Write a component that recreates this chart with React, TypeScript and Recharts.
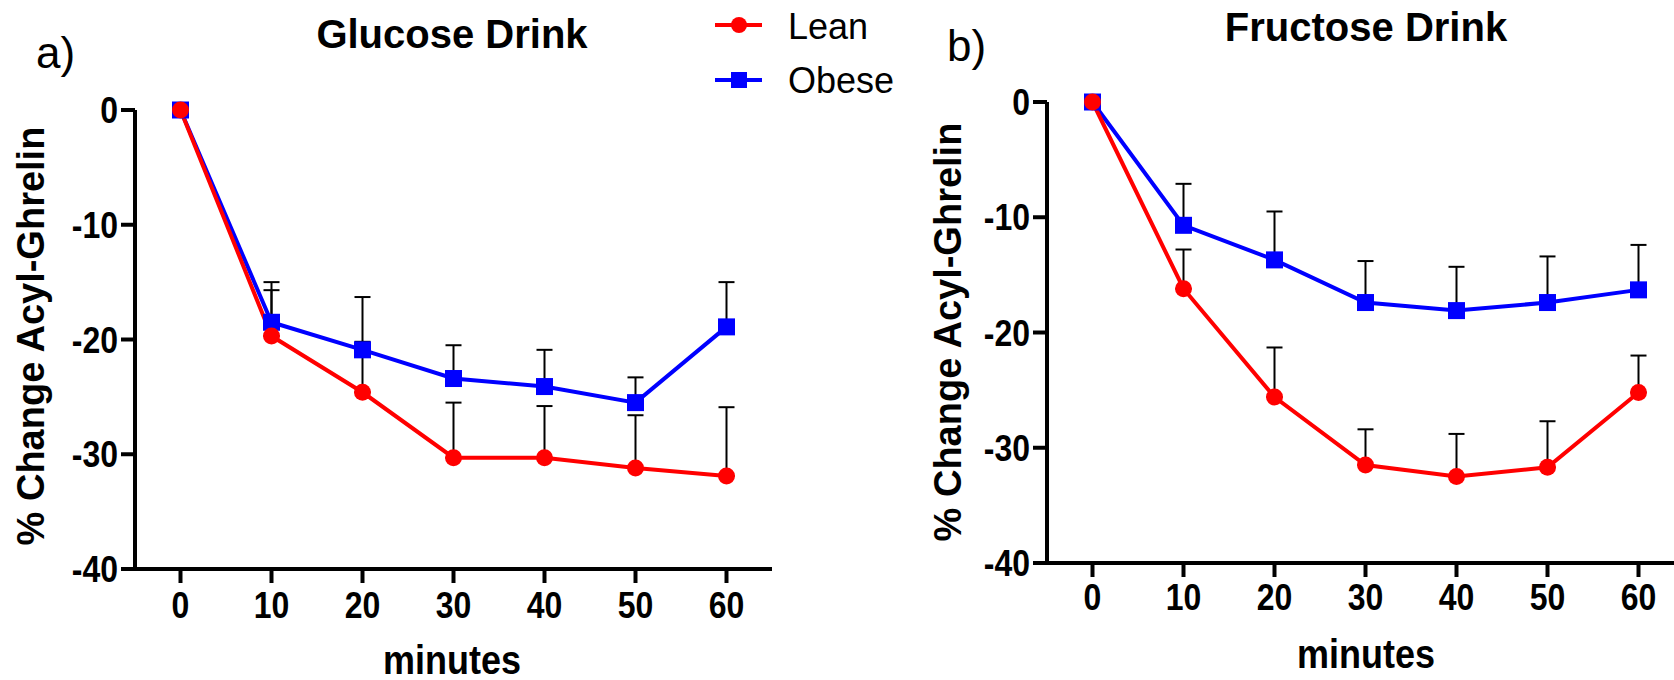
import React from "react"
import { LineChart, Line, XAxis, YAxis, ErrorBar } from "recharts"

// values (% change from baseline, upward SEM)
const minutes = [0, 10, 20, 30, 40, 50, 60]
const yTicks = [0, -10, -20, -30, -40]

const glucoseLean = [0, -19.7, -24.6, -30.3, -30.3, -31.2, -31.9]
const glucoseLeanSem = [0, 4.0, 4.4, 4.8, 4.5, 4.6, 6.0]
const glucoseObese = [0, -18.5, -20.9, -23.4, -24.1, -25.5, -18.9]
const glucoseObeseSem = [0, 3.5, 4.6, 2.9, 3.2, 2.2, 3.9]

const fructoseLean = [0, -16.2, -25.6, -31.5, -32.5, -31.7, -25.2]
const fructoseLeanSem = [0, 3.4, 4.3, 3.1, 3.7, 4.0, 3.2]
const fructoseObese = [0, -10.7, -13.7, -17.4, -18.1, -17.4, -16.3]
const fructoseObeseSem = [0, 3.6, 4.2, 3.6, 3.8, 4.0, 3.9]

const RED = "#FF0000"
const BLUE = "#0000FF"
const FONT = "'Liberation Sans', Arial, sans-serif"
const STRETCH = 1.15 // prism text is a bit taller than plain Arial

function buildRows(lean: number[], leanSem: number[], obese: number[], obeseSem: number[]) {
  return minutes.map((m, i) => ({
    minute: m,
    lean: lean[i],
    leanErr: [0, leanSem[i]],
    obese: obese[i],
    obeseErr: [0, obeseSem[i]],
  }))
}

const glucoseRows = buildRows(glucoseLean, glucoseLeanSem, glucoseObese, glucoseObeseSem)
const fructoseRows = buildRows(fructoseLean, fructoseLeanSem, fructoseObese, fructoseObeseSem)

const squareDot = (p: any) => {
  if (p.cx == null || p.cy == null) return <g key={p.index} />
  return <rect key={p.index} x={p.cx - 8.5} y={p.cy - 8.5} width={17} height={17} fill={BLUE} />
}

const XTick = (p: any) => (
  <text
    transform={`translate(${p.x},${p.y + p.dy2}) scale(1,${STRETCH})`}
    textAnchor="middle" fontFamily={FONT} fontWeight="bold" fontSize={32} fill="#000"
  >
    {p.payload.value}
  </text>
)

const YTick = (p: any) => (
  <text
    transform={`translate(${p.x},${p.y + 13}) scale(1,${STRETCH})`}
    textAnchor="end" fontFamily={FONT} fontWeight="bold" fontSize={32} fill="#000"
  >
    {p.payload.value}
  </text>
)

interface PanelProps {
  rows: Array<Record<string, unknown>>
  left: number
  width: number
  top: number
  yAxisWidth: number
  xAxisHeight: number
  rightMargin: number
  tickDy: number
}

function Panel({ rows, left, width, top, yAxisWidth, xAxisHeight, rightMargin, tickDy }: PanelProps) {
  const axisStyle = { stroke: "#000", strokeWidth: 4 }
  return (
    <div style={{ position: "absolute", left, top: 0 }}>
      <LineChart width={width} height={680} data={rows} margin={{ top, right: rightMargin, left: 0, bottom: 0 }}>
        <XAxis
          type="number"
          dataKey="minute"
          domain={[-5, 65]}
          ticks={minutes}
          interval={0}
          height={xAxisHeight}
          tickSize={14}
          tickMargin={0}
          axisLine={axisStyle}
          tickLine={axisStyle}
          tick={<XTick dy2={tickDy} />}
        />
        <YAxis
          type="number"
          domain={[-40, 0]}
          ticks={yTicks}
          interval={0}
          width={yAxisWidth}
          tickSize={14}
          tickMargin={3}
          axisLine={axisStyle}
          tickLine={axisStyle}
          tick={<YTick />}
        />
        <Line type="linear" dataKey="obese" stroke={BLUE} strokeWidth={4} dot={squareDot} activeDot={false} isAnimationActive={false}>
          <ErrorBar dataKey="obeseErr" direction="y" width={8} stroke="#000" strokeWidth={2} isAnimationActive={false} />
        </Line>
        <Line type="linear" dataKey="lean" stroke={RED} strokeWidth={4} dot={{ r: 8.5, fill: RED, stroke: RED, strokeWidth: 0 }} activeDot={false} isAnimationActive={false}>
          <ErrorBar dataKey="leanErr" direction="y" width={8} stroke="#000" strokeWidth={2} isAnimationActive={false} />
        </Line>
      </LineChart>
    </div>
  )
}

export default function App() {
  const bold = { fontFamily: FONT, fontWeight: "bold" as const, fill: "#000" }
  return (
    <div style={{ position: "absolute", left: 0, top: 0, width: 1674, height: 680, overflow: "hidden", background: "#fff" }}>
      <Panel rows={glucoseRows} left={0} width={840} top={110} yAxisWidth={135} xAxisHeight={111} rightMargin={68} tickDy={35} />
      <Panel rows={fructoseRows} left={840} width={860} top={102} yAxisWidth={207} xAxisHeight={117} rightMargin={16} tickDy={33} />

      <svg width={1674} height={680} style={{ position: "absolute", left: 0, top: 0, pointerEvents: "none" }}>
        {/* panel letters and titles */}
        <text x={36} y={68} fontFamily={FONT} fontSize={44} fill="#000">a)</text>
        <text x={947} y={61} fontFamily={FONT} fontSize={44} fill="#000">b)</text>
        <text x={452} y={48} textAnchor="middle" fontSize={40} {...bold}>Glucose Drink</text>
        <text x={1366} y={41} textAnchor="middle" fontSize={40} {...bold}>Fructose Drink</text>

        {/* axis titles */}
        <text transform="translate(44,336) rotate(-90)" textAnchor="middle" fontSize={38} {...bold}>% Change Acyl-Ghrelin</text>
        <text transform="translate(961,332) rotate(-90)" textAnchor="middle" fontSize={38} {...bold}>% Change Acyl-Ghrelin</text>
        <text transform={`translate(452,674) scale(1,${STRETCH})`} textAnchor="middle" fontSize={36} {...bold}>minutes</text>
        <text transform={`translate(1366,668) scale(1,${STRETCH})`} textAnchor="middle" fontSize={36} {...bold}>minutes</text>

        {/* legend */}
        <line x1={715} y1={25} x2={762} y2={25} stroke={RED} strokeWidth={4} />
        <circle cx={739} cy={25} r={8} fill={RED} />
        <text x={788} y={39} fontFamily={FONT} fontSize={36} fill="#000">Lean</text>
        <line x1={715} y1={80} x2={762} y2={80} stroke={BLUE} strokeWidth={4} />
        <rect x={731} y={72} width={16} height={16} fill={BLUE} />
        <text x={788} y={93} fontFamily={FONT} fontSize={36} fill="#000">Obese</text>
      </svg>
    </div>
  )
}
